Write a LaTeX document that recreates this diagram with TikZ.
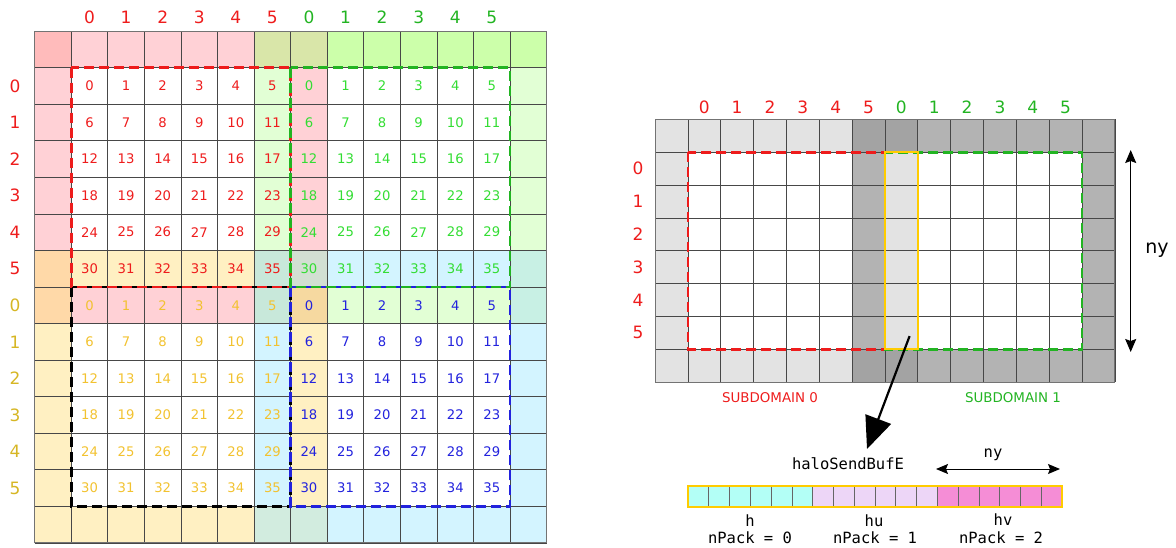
\documentclass[tikz,border=0pt]{standalone}
\usepackage{fontspec}
\setmainfont{DejaVu Sans}
\setmonofont{DejaVu Sans Mono}
\usetikzlibrary{arrows.meta,positioning,calc}

\definecolor{pinkA}{HTML}{FFD1D6}
\definecolor{pinkB}{HTML}{FFBBBB}
\definecolor{oliveA}{HTML}{D9E6A9}
\definecolor{greenA}{HTML}{CCFFAA}
\definecolor{greenB}{HTML}{E2FFD5}
\definecolor{orangeA}{HTML}{FFD9A8}
\definecolor{yellowA}{HTML}{FFF0C2}
\definecolor{tealA}{HTML}{C8E8DA}
\definecolor{tealL}{HTML}{D2ECDF}
\definecolor{grayG}{HTML}{D2DFD2}
\definecolor{cyanA}{HTML}{D3F4FF}
\definecolor{cyanG}{HTML}{C8F0E4}
\definecolor{tanA}{HTML}{F6D9A0}
\definecolor{lgray}{HTML}{E3E3E3}
\definecolor{mgray}{HTML}{B3B3B3}
\definecolor{dgray}{HTML}{A3A3A3}
\definecolor{txtred}{HTML}{EE1C1C}
\definecolor{txtgreen}{HTML}{22B422}
\definecolor{numgreen}{HTML}{33DD33}
\definecolor{numyellow}{HTML}{F2C230}
\definecolor{txtyellow}{HTML}{D6B624}
\definecolor{numblue}{HTML}{2222DD}
\definecolor{haloyellow}{HTML}{FFCC00}
\definecolor{bufcyan}{HTML}{B3FFF6}
\definecolor{buflilac}{HTML}{EDD6F7}
\definecolor{bufpink}{HTML}{F58DD6}

\begin{document}
\begin{tikzpicture}[
    x=1pt, y=-1pt,
    gridline/.style={draw=black!72, line width=0.7pt},
    cellnum/.style={font=\fontsize{13.2}{15}\selectfont, inner sep=0pt},
    idxlabel/.style={font=\fontsize{17}{20}\selectfont, inner sep=0pt},
    sdbox/.style={line width=2.7pt, dash pattern=on 10pt off 5pt},
    sdname/.style={font=\fontsize{13.4}{16}\selectfont, inner sep=0pt},
    monolabel/.style={font=\ttfamily\fontsize{15.5}{18}\selectfont, inner sep=0pt},
    >={Stealth[length=13pt,width=11pt,inset=2pt]}
]
  \useasboundingbox (0,0) rectangle (1176,547);

  \begin{scope}[shift={(34.7,31)}, x=36.57pt, y=-36.57pt]
    \foreach \c/\r/\w/\h/\col in {0/0/1/1/pinkB, 1/0/5/1/pinkA, 6/0/2/1/oliveA, 8/0/6/1/greenA,
        0/1/1/5/pinkA, 6/1/1/5/greenB, 7/1/1/5/pinkA, 13/1/1/5/greenB,
        0/6/1/2/orangeA, 1/6/5/1/yellowA, 6/6/1/2/tealA, 7/6/1/1/grayG, 8/6/5/1/cyanA, 13/6/1/2/cyanG,
        1/7/5/1/pinkA, 7/7/1/1/tanA, 8/7/5/1/greenB,
        0/8/1/6/yellowA, 1/13/5/1/yellowA, 6/8/1/5/cyanA, 7/8/1/5/yellowA,
        6/13/2/1/tealL, 8/13/6/1/cyanA, 13/8/1/5/cyanA}
      \fill[\col] (\c,\r) rectangle ++(\w,\h);
    \foreach \k in {0,...,14} {
      \draw[gridline] (\k,0) -- (\k,14);
      \draw[gridline] (0,\k) -- (14,\k);
    }
    \draw[draw=black!55, line width=1pt] (0,0) rectangle (14,14);

    \foreach \sc/\sr/\col in {1/1/txtred, 7/1/numgreen, 1/7/numyellow, 7/7/numblue}
      \foreach \j in {0,...,5}
        \foreach \i in {0,...,5} {
          \pgfmathtruncatemacro{\cellno}{6*\j+\i}
          \node[cellnum, text=\col] (L-\sc-\sr-\cellno) at (\sc+\i+0.5, \sr+\j+0.5) {\cellno};
        }

    \foreach \i in {0,...,5} {
      \node[idxlabel, text=txtred] (Lcr-\i) at (\i+1.5,-0.38) {\i};
      \node[idxlabel, text=txtgreen] (Lcg-\i) at (\i+7.5,-0.38) {\i};
      \node[idxlabel, text=txtred] (Lrr-\i) at (-0.54,\i+1.5) {\i};
      \node[idxlabel, text=txtyellow] (Lry-\i) at (-0.54,\i+7.5) {\i};
    }

    \draw[sdbox, draw=black] (1,7) rectangle (7,13);
    \draw[sdbox, draw=numblue] (7,7) rectangle (13,13);
    \draw[sdbox, draw=txtred] (1,1) rectangle (7,7);
    \draw[sdbox, draw=txtgreen] (7,1) rectangle (13,7);
  \end{scope}

  \begin{scope}[shift={(655,119.3)}, x=32.85pt, y=-32.85pt]
    \foreach \c/\r/\w/\h/\col in {0/0/6/1/lgray, 0/1/1/6/lgray, 0/7/6/1/lgray,
        6/0/2/1/dgray, 6/7/2/1/dgray, 8/0/6/1/mgray, 8/7/6/1/mgray,
        13/1/1/6/mgray, 6/1/1/6/mgray, 7/1/1/6/lgray}
      \fill[\col] (\c,\r) rectangle ++(\w,\h);
    \foreach \k in {0,...,14}
      \draw[gridline] (\k,0) -- (\k,8);
    \foreach \k in {0,...,8}
      \draw[gridline] (0,\k) -- (14,\k);
    \draw[draw=black!55, line width=1pt] (0,0) rectangle (14,8);

    \foreach \i in {0,...,5} {
      \node[idxlabel, text=txtred] (Rcr-\i) at (\i+1.5,-0.37) {\i};
      \node[idxlabel, text=txtgreen] (Rcg-\i) at (\i+7.5,-0.37) {\i};
      \node[idxlabel, text=txtred] (Rrr-\i) at (-0.52,\i+1.5) {\i};
    }

    \draw[sdbox, draw=txtred] (1,1) rectangle (7,7);
    \draw[sdbox, draw=txtgreen] (7,1) rectangle (13,7);
    \draw[draw=haloyellow, line width=2.4pt] (7,1) rectangle (8,7);

    \coordinate (pick) at (7.75,6.6);
  \end{scope}

  \node[sdname, text=txtred] (sub0) at (770,398) {SUBDOMAIN 0};
  \node[sdname, text=txtgreen] (sub1) at (1013,398) {SUBDOMAIN 1};

  \coordinate (nytop) at (1130.7,150);
  \coordinate (nybot) at (1130.7,352);
  \draw[<->, line width=1pt] (nytop) -- (nybot);
  \node[font=\fontsize{19}{22}\selectfont, inner sep=0pt] (nyR) at (1157,250) {ny};

  \node[monolabel] (bufname) at (848,464) {haloSendBufE};
  \coordinate (tip) at (867,449);
  \draw[-{Triangle[length=32pt,width=27pt]}, line width=2.2pt] (pick) -- (tip);

  \foreach \k/\col in {0/bufcyan, 1/buflilac, 2/bufpink}
    \fill[\col] (688+124.67*\k,486) rectangle ++(124.67,21);
  \foreach \k in {1,...,17}
    \draw[draw=black!60, line width=0.7pt] (688+20.78*\k,486) -- ++(0,21);
  \draw[draw=haloyellow, line width=2.6pt] (688,486) rectangle (1062,507);

  \coordinate (bufl) at (936,469);
  \coordinate (bufr) at (1060,469);
  \draw[<->, line width=1pt, >={Stealth[length=12pt,width=10pt,inset=2pt]}] (bufl) -- (bufr);
  \node[monolabel] (nyB) at (993,455) {ny};

  \node[monolabel] (hname) at (750,521) {h};
  \node[monolabel] (hpack) at (750,538) {nPack = 0};
  \node[monolabel] (huname) at (874,521) {hu};
  \node[monolabel] (hupack) at (875,538) {nPack = 1};
  \node[monolabel] (hvname) at (1003,520) {hv};
  \node[monolabel] (hvpack) at (1001,538) {nPack = 2};
\end{tikzpicture}
\end{document}
